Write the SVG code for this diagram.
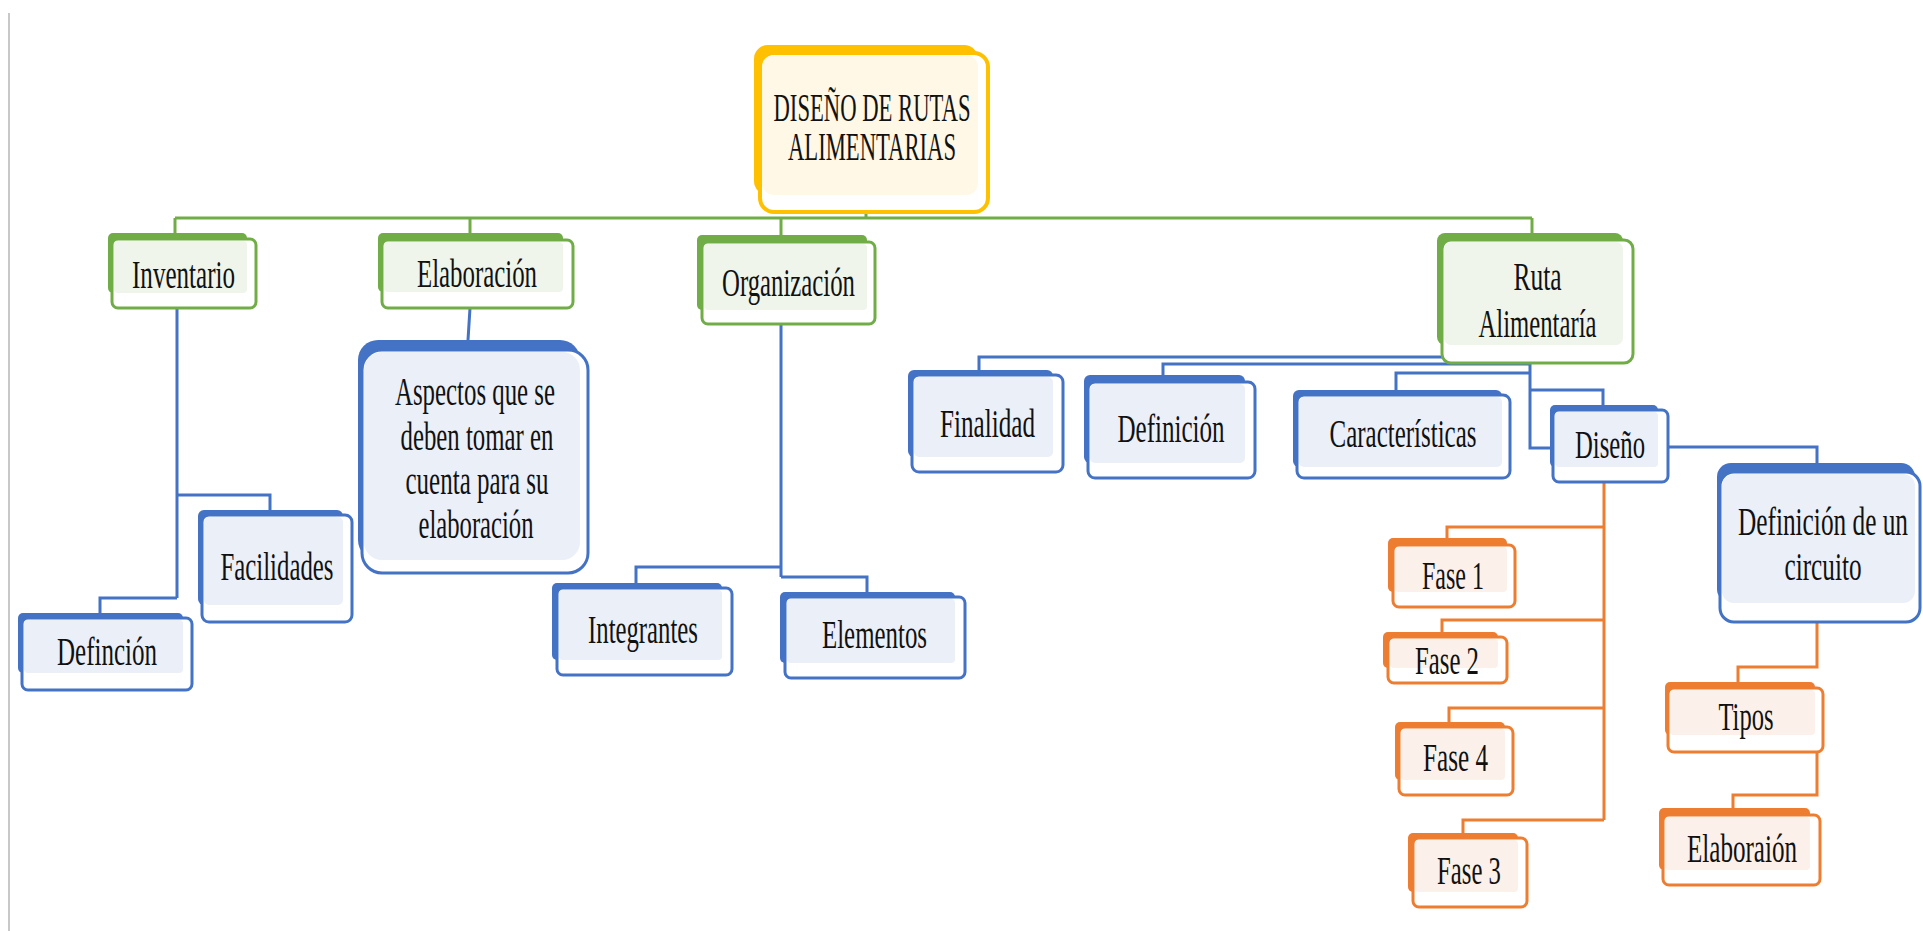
<svg xmlns="http://www.w3.org/2000/svg" width="1923" height="931" viewBox="0 0 1923 931">
<style>
.bg{fill:#ffffff}
.t{font-family:"Liberation Serif","Times New Roman",serif;font-size:40px;fill:#111111;text-anchor:middle}
.yb{fill:#FFC000}.yf{fill:#ffffff;stroke:#FFC000;stroke-width:4}.yt{fill:#FFF8E6}
.gb{fill:#70AD47}.gf{fill:#ffffff;stroke:#70AD47;stroke-width:3}.gt{fill:#EFF5EA}
.bb{fill:#4472C4}.bf{fill:#ffffff;stroke:#4472C4;stroke-width:3}.bt{fill:#EAEFF8}
.ob{fill:#ED7D31}.of{fill:#ffffff;stroke:#ED7D31;stroke-width:3}.ot{fill:#FBF0EA}
.cg{fill:none;stroke:#70AD47;stroke-width:3}
.cb{fill:none;stroke:#4472C4;stroke-width:3}
.co{fill:none;stroke:#ED7D31;stroke-width:3}
</style>
<rect class="bg" x="0" y="0" width="1923" height="931"/>
<line x1="9" y1="13" x2="9" y2="931" stroke="#C8C8C8" stroke-width="2"/>

<g id="connectors">
  <path class="cg" d="M866,212 V218 M175,218 H1532 M175,218 V233 M470,218 V233 M781,218 V235 M1532,218 V233"/>
  <path class="cb" d="M177,308 V598 M177,495 H270 V510 M177,598 H100 V613"/>
  <path class="cb" d="M470,308 L468,340"/>
  <path class="cb" d="M781,324 V577 M781,567 H636 V583 M781,577 H867 V592"/>
  <path class="cb" d="M1530,345 V448 H1550 M979,370 V357 H1530 M1163,375 V364 H1530 M1396,390 V373 H1530 M1530,390 H1603 V405"/>
  <path class="cb" d="M1668,447 H1817 V463"/>
  <path class="co" d="M1604,482 V820 M1604,527 H1447 V538 M1604,620 H1442 V632 M1604,708 H1449 V722 M1604,820 H1463 V833"/>
  <path class="co" d="M1817,622 V667 H1738 V682 M1817,752 V795 H1733 V808"/>
</g>

<g id="n-title">
  <rect class="yb" x="754" y="45" width="224" height="150" rx="14"/>
  <rect class="yf" x="760" y="53" width="228" height="159" rx="14"/>
  <rect class="yt" x="762" y="55" width="216" height="140" rx="12"/>
  <text class="t" x="872" y="121" textLength="197" lengthAdjust="spacingAndGlyphs">DISEÑO DE RUTAS</text>
  <text class="t" x="872" y="160" textLength="168" lengthAdjust="spacingAndGlyphs">ALIMENTARIAS</text>
</g>

<g id="n-inventario">
  <rect class="gb" x="108" y="233" width="139" height="60" rx="5"/>
  <rect class="gf" x="112" y="239" width="144" height="69" rx="6"/>
  <rect class="gt" x="114" y="241" width="133" height="52" rx="4"/>
  <text class="t" x="183.5" y="288" textLength="103" lengthAdjust="spacingAndGlyphs">Inventario</text>
</g>

<g id="n-elaboracion">
  <rect class="gb" x="378" y="233" width="185" height="59" rx="5"/>
  <rect class="gf" x="382" y="240" width="191" height="68" rx="6"/>
  <rect class="gt" x="384" y="242" width="179" height="50" rx="4"/>
  <text class="t" x="477" y="287" textLength="120" lengthAdjust="spacingAndGlyphs">Elaboración</text>
</g>

<g id="n-organizacion">
  <rect class="gb" x="697" y="235" width="170" height="75" rx="5"/>
  <rect class="gf" x="702" y="242" width="173" height="82" rx="6"/>
  <rect class="gt" x="704" y="244" width="163" height="66" rx="4"/>
  <text class="t" x="788.5" y="296" textLength="133" lengthAdjust="spacingAndGlyphs">Organización</text>
</g>

<g id="n-ruta">
  <rect class="gb" x="1437" y="233" width="186" height="112" rx="8"/>
  <rect class="gf" x="1442" y="240" width="191" height="123" rx="9"/>
  <rect class="gt" x="1444" y="242" width="179" height="103" rx="7"/>
  <text class="t" x="1537.5" y="290" textLength="48" lengthAdjust="spacingAndGlyphs">Ruta</text>
  <text class="t" x="1537.5" y="337" textLength="118" lengthAdjust="spacingAndGlyphs">Alimentaría</text>
</g>

<g id="n-aspectos">
  <rect class="bb" x="358" y="340" width="222" height="220" rx="20"/>
  <rect class="bf" x="362" y="350" width="226" height="223" rx="20"/>
  <rect class="bt" x="364" y="352" width="216" height="208" rx="18"/>
  <text class="t" x="475" y="405" textLength="160" lengthAdjust="spacingAndGlyphs">Aspectos que se</text>
  <text class="t" x="477" y="450" textLength="153" lengthAdjust="spacingAndGlyphs">deben tomar en</text>
  <text class="t" x="477" y="494" textLength="143" lengthAdjust="spacingAndGlyphs">cuenta para su</text>
  <text class="t" x="476" y="538" textLength="115" lengthAdjust="spacingAndGlyphs">elaboración</text>
</g>

<g id="n-facilidades">
  <rect class="bb" x="198" y="510" width="145" height="95" rx="6"/>
  <rect class="bf" x="202" y="515" width="150" height="107" rx="7"/>
  <rect class="bt" x="204" y="517" width="139" height="88" rx="5"/>
  <text class="t" x="277" y="580" textLength="113" lengthAdjust="spacingAndGlyphs">Facilidades</text>
</g>

<g id="n-definc">
  <rect class="bb" x="18" y="613" width="165" height="60" rx="5"/>
  <rect class="bf" x="22" y="618" width="170" height="72" rx="6"/>
  <rect class="bt" x="24" y="620" width="159" height="53" rx="4"/>
  <text class="t" x="107" y="665" textLength="100" lengthAdjust="spacingAndGlyphs">Definción</text>
</g>

<g id="n-integrantes">
  <rect class="bb" x="552" y="583" width="170" height="77" rx="5"/>
  <rect class="bf" x="557" y="588" width="175" height="87" rx="6"/>
  <rect class="bt" x="559" y="590" width="163" height="70" rx="4"/>
  <text class="t" x="643" y="643" textLength="110" lengthAdjust="spacingAndGlyphs">Integrantes</text>
</g>

<g id="n-elementos">
  <rect class="bb" x="780" y="592" width="175" height="71" rx="5"/>
  <rect class="bf" x="785" y="597" width="180" height="81" rx="6"/>
  <rect class="bt" x="787" y="599" width="168" height="64" rx="4"/>
  <text class="t" x="874.5" y="648" textLength="105" lengthAdjust="spacingAndGlyphs">Elementos</text>
</g>

<g id="n-finalidad">
  <rect class="bb" x="908" y="370" width="145" height="87" rx="6"/>
  <rect class="bf" x="912" y="375" width="151" height="97" rx="7"/>
  <rect class="bt" x="914" y="377" width="139" height="80" rx="5"/>
  <text class="t" x="987.5" y="437" textLength="95" lengthAdjust="spacingAndGlyphs">Finalidad</text>
</g>

<g id="n-definicion">
  <rect class="bb" x="1084" y="375" width="161" height="88" rx="6"/>
  <rect class="bf" x="1088" y="382" width="167" height="96" rx="7"/>
  <rect class="bt" x="1090" y="384" width="155" height="79" rx="5"/>
  <text class="t" x="1171" y="442" textLength="107" lengthAdjust="spacingAndGlyphs">Definición</text>
</g>

<g id="n-caracteristicas">
  <rect class="bb" x="1293" y="390" width="209" height="77" rx="6"/>
  <rect class="bf" x="1297" y="395" width="213" height="83" rx="7"/>
  <rect class="bt" x="1299" y="397" width="203" height="70" rx="5"/>
  <text class="t" x="1403" y="447" textLength="147" lengthAdjust="spacingAndGlyphs">Características</text>
</g>

<g id="n-diseno">
  <rect class="bb" x="1550" y="405" width="108" height="62" rx="5"/>
  <rect class="bf" x="1553" y="410" width="115" height="72" rx="6"/>
  <rect class="bt" x="1555" y="412" width="103" height="55" rx="4"/>
  <text class="t" x="1610" y="458" textLength="70" lengthAdjust="spacingAndGlyphs">Diseño</text>
</g>

<g id="n-circuito">
  <rect class="bb" x="1717" y="463" width="198" height="140" rx="14"/>
  <rect class="bf" x="1720" y="472" width="200" height="150" rx="14"/>
  <rect class="bt" x="1722" y="474" width="193" height="129" rx="12"/>
  <text class="t" x="1823" y="535" textLength="170" lengthAdjust="spacingAndGlyphs">Definición de un</text>
  <text class="t" x="1823" y="580" textLength="77" lengthAdjust="spacingAndGlyphs">circuito</text>
</g>

<g id="n-fase1">
  <rect class="ob" x="1388" y="538" width="119" height="54" rx="5"/>
  <rect class="of" x="1393" y="545" width="122" height="62" rx="6"/>
  <rect class="ot" x="1395" y="547" width="112" height="45" rx="4"/>
  <text class="t" x="1453" y="589" textLength="62" lengthAdjust="spacingAndGlyphs">Fase 1</text>
</g>

<g id="n-fase2">
  <rect class="ob" x="1383" y="632" width="115" height="36" rx="5"/>
  <rect class="of" x="1388" y="637" width="119" height="46" rx="6"/>
  <rect class="ot" x="1390" y="639" width="108" height="29" rx="4"/>
  <text class="t" x="1447" y="674" textLength="64" lengthAdjust="spacingAndGlyphs">Fase 2</text>
</g>

<g id="n-fase4">
  <rect class="ob" x="1395" y="722" width="110" height="58" rx="5"/>
  <rect class="of" x="1399" y="727" width="114" height="68" rx="6"/>
  <rect class="ot" x="1401" y="729" width="104" height="51" rx="4"/>
  <text class="t" x="1455.5" y="771" textLength="65" lengthAdjust="spacingAndGlyphs">Fase 4</text>
</g>

<g id="n-fase3">
  <rect class="ob" x="1408" y="833" width="110" height="59" rx="5"/>
  <rect class="of" x="1413" y="838" width="114" height="69" rx="6"/>
  <rect class="ot" x="1415" y="840" width="103" height="52" rx="4"/>
  <text class="t" x="1469" y="884" textLength="64" lengthAdjust="spacingAndGlyphs">Fase 3</text>
</g>

<g id="n-tipos">
  <rect class="ob" x="1665" y="682" width="150" height="53" rx="5"/>
  <rect class="of" x="1668" y="688" width="155" height="64" rx="6"/>
  <rect class="ot" x="1670" y="690" width="145" height="45" rx="4"/>
  <text class="t" x="1746" y="730" textLength="55" lengthAdjust="spacingAndGlyphs">Tipos</text>
</g>

<g id="n-elaboraion">
  <rect class="ob" x="1659" y="808" width="151" height="62" rx="5"/>
  <rect class="of" x="1663" y="815" width="157" height="70" rx="6"/>
  <rect class="ot" x="1665" y="817" width="145" height="53" rx="4"/>
  <text class="t" x="1742" y="862" textLength="110" lengthAdjust="spacingAndGlyphs">Elaboraión</text>
</g>
</svg>
